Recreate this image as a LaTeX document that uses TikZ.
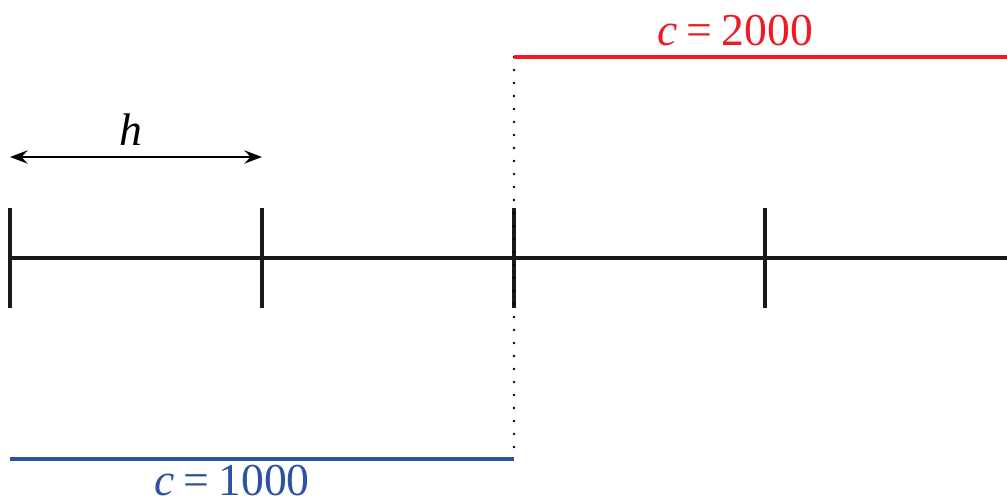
\documentclass[tikz,border=0pt]{standalone}
\usepackage{fontspec}
\setmainfont{Liberation Serif}
\usetikzlibrary{arrows.meta}
\definecolor{myred}{RGB}{237,28,36}
\definecolor{myblue}{RGB}{46,82,160}
\newcommand{\eqsp}{\hspace{0.2em}=\hspace{0.2em}}
\begin{document}
\begin{tikzpicture}[x=0.02cm,y=-0.02cm,
  axis/.style={line width=2pt,black!90},
  tick/.style={line width=2pt,black!90},
  lbl/.style={font=\fontsize{26}{30}\selectfont,inner sep=0pt,anchor=base},
  dotline/.style={line width=1.5pt,dash pattern=on 0pt off 13*0.02cm,line cap=round},
]
\useasboundingbox (0,0) rectangle (1007,503);
% coordinates
\coordinate (a0) at (10,258);
\coordinate (a1) at (262,258);
\coordinate (a2) at (514,258);
\coordinate (a3) at (765,258);
\coordinate (aend) at (1007,258);
\coordinate (rs) at (514,57);
\coordinate (re) at (1007,57);
\coordinate (bs) at (10,459);
\coordinate (be) at (514,459);
\coordinate (hs) at (10,157);
\coordinate (he) at (262,157);
% main axis
\draw[axis] (a0) -- (aend);
\foreach \i in {0,1,2,3}{
  \draw[tick] ([yshift=50*0.02cm]a\i) -- ([yshift=-50*0.02cm]a\i);
}
% dotted separator
\draw[dotline] (rs) -- (be);
% coefficient lines
\draw[myred,line width=2pt] (rs) -- (re);
\draw[myblue,line width=2pt] (bs) -- (be);
% h arrow
\draw[line width=1.4pt,{Stealth[length=10pt,width=7.5pt,inset=3.5pt]}-{Stealth[length=10pt,width=7.5pt,inset=3.5pt]}] (hs) -- (he);
% labels
\node[lbl] (hl) at (131,146) {\textit{h}};
\node[lbl,myred] (cr) at (735,46) {\textit{c}\eqsp2000};
\node[lbl,myblue] (cb) at (232,495) {\textit{c}\eqsp1000};
\end{tikzpicture}
\end{document}
